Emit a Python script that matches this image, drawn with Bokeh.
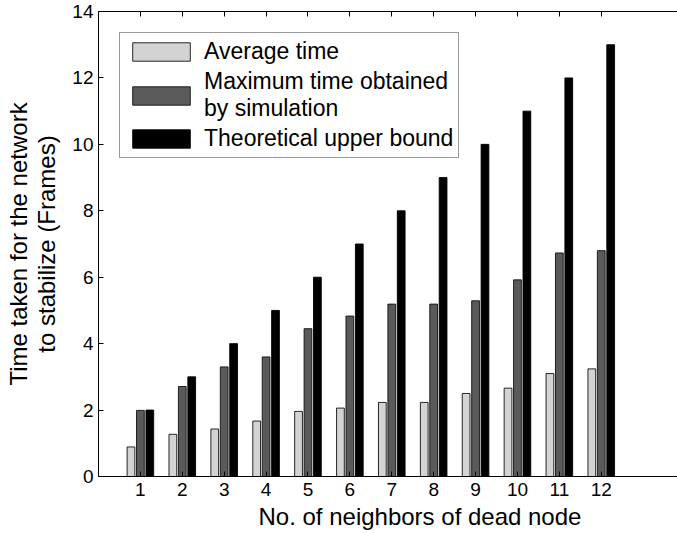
from bokeh.plotting import figure
from bokeh.models import ColumnDataSource, Range1d, LinearAxis, FixedTicker, Legend, LegendItem, Title
from bokeh.transform import dodge
from bokeh.embed import file_html
from bokeh.resources import INLINE

neighbors = [1, 2, 3, 4, 5, 6, 7, 8, 9, 10, 11, 12]
average_time = [0.89, 1.27, 1.43, 1.67, 1.96, 2.06, 2.23, 2.23, 2.50, 2.66, 3.10, 3.24]
max_sim_time = [1.99, 2.71, 3.30, 3.60, 4.45, 4.83, 5.19, 5.19, 5.29, 5.92, 6.73, 6.80]
upper_bound = [2, 3, 4, 5, 6, 7, 8, 9, 10, 11, 12, 13]
y_ticks = [0, 2, 4, 6, 8, 10, 12, 14]

src = ColumnDataSource(dict(x=neighbors, avg=average_time, mx=max_sim_time, ub=upper_bound))

FONT = "Liberation Sans"

p = figure(width=677, height=533, output_backend="svg", toolbar_location=None,
           x_range=Range1d(0, 13.82), y_range=Range1d(0, 14),
           min_border_left=98, min_border_right=0, min_border_top=11, min_border_bottom=57,
           background_fill_color="white", border_fill_color="white")
p.outline_line_color = None
p.grid.visible = False

bw = 0.185
r1 = p.vbar(x=dodge("x", -0.225), top="avg", width=bw, source=src,
            fill_color="#d3d3d3", line_color="#111111", line_width=0.9)
r2 = p.vbar(x="x", top="mx", width=bw, source=src,
            fill_color="#5a5a5a", line_color="#111111", line_width=0.9)
r3 = p.vbar(x=dodge("x", 0.225), top="ub", width=bw, source=src,
            fill_color="#000000", line_color="#000000", line_width=0.9)

def style_axis(ax):
    ax.axis_line_color = "black"
    ax.axis_line_width = 1
    ax.major_tick_in = 5
    ax.major_tick_out = 0
    ax.minor_tick_line_color = None
    ax.major_tick_line_color = "black"
    ax.major_label_text_font = FONT
    ax.major_label_text_font_size = "19px"
    ax.major_label_text_color = "black"
    ax.axis_label_text_font = FONT
    ax.axis_label_text_font_size = "23px"
    ax.axis_label_text_font_style = "normal"
    ax.axis_label_text_color = "black"

xa = p.xaxis[0]
xa.ticker = FixedTicker(ticks=neighbors)
style_axis(xa)
xa.major_label_standoff = 6

xlabel = Title(text="No. of neighbors of dead node", align="left", offset=160,
               text_font=FONT, text_font_size="24px", text_font_style="normal",
               text_color="black", standoff=4)
p.add_layout(xlabel, "below")

ya = p.yaxis[0]
ya.ticker = FixedTicker(ticks=y_ticks)
style_axis(ya)
ya.major_label_standoff = 5
ya.axis_label = "Time taken for the network\nto stabilize (Frames)"
ya.axis_label_text_font_size = "24px"
ya.axis_label_text_line_height = 1.05
ya.axis_label_standoff = 9

top = LinearAxis(ticker=FixedTicker(ticks=neighbors))
style_axis(top)
top.major_label_overrides = {t: "" for t in neighbors}
top.major_label_standoff = 0
p.add_layout(top, "above")

legend = Legend(items=[
    LegendItem(label="Average time", renderers=[r1]),
    LegendItem(label="Maximum time obtained\nby simulation", renderers=[r2]),
    LegendItem(label="Theoretical upper bound", renderers=[r3]),
], location=(21, 318))
legend.label_text_font = FONT
legend.label_text_font_size = "23px"
legend.label_text_line_height = 1.0
legend.label_text_color = "black"
legend.glyph_width = 72
legend.glyph_height = 23
legend.spacing = 3
legend.padding = 5
legend.margin = 0
legend.label_standoff = 7
legend.border_line_color = "#333333"
legend.border_line_width = 1
legend.background_fill_color = "white"
legend.background_fill_alpha = 1
p.add_layout(legend, "center")

open("out.html", "w").write(file_html(p, INLINE))
